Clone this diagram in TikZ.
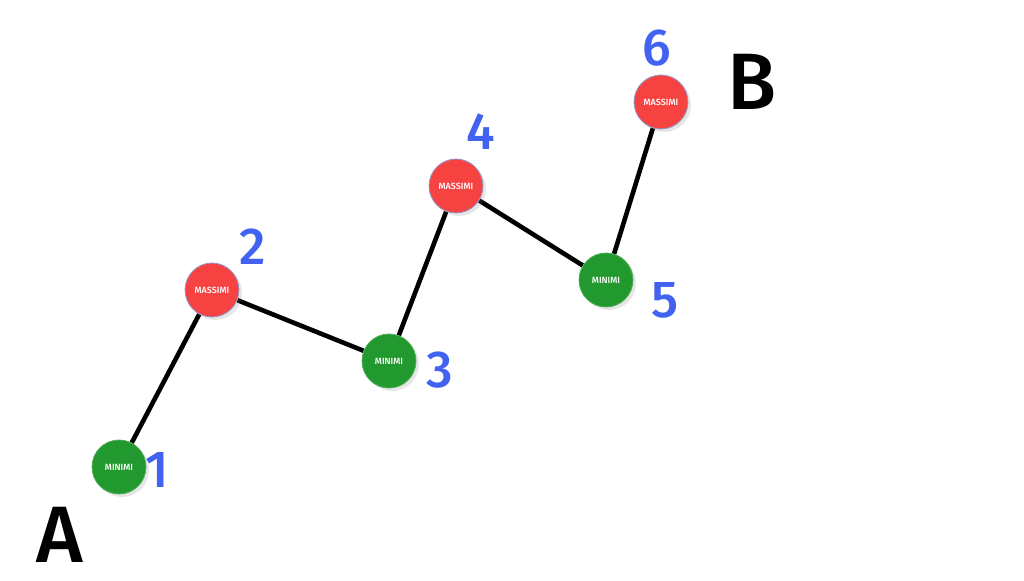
\documentclass[tikz,border=0pt]{standalone}
\usepackage{fontspec}
\setmainfont{Fira Sans}[BoldFont={Fira Sans Medium}]
\usetikzlibrary{shadows, backgrounds}

\definecolor{minigreen}{HTML}{22992E}
\definecolor{maxred}{HTML}{F74242}
\definecolor{numblue}{HTML}{4262F2}

\begin{document}
\begin{tikzpicture}[
    x=0.5pt, y=-0.5pt,
    % Define point styles
    minpt/.style={circle, fill=minigreen, draw=minigreen!80!white, line width=0.4pt, minimum size=27pt, inner sep=0pt, text=white, font=\fontsize{4.5}{5}\selectfont\bfseries, drop shadow={opacity=0.2, shadow xshift=1.5pt, shadow yshift=-1.5pt}},
    maxpt/.style={circle, fill=maxred, draw=numblue!50!gray!70, line width=0.4pt, minimum size=27pt, inner sep=0pt, text=white, font=\fontsize{4.5}{5}\selectfont\bfseries, drop shadow={opacity=0.2, shadow xshift=1.5pt, shadow yshift=-1.5pt}},
    % Define label styles
    num/.style={text=numblue, font=\fontsize{26}{26}\selectfont\bfseries},
    endpt/.style={text=black, font=\fontsize{40}{40}\selectfont\bfseries},
    % Define edge style
    edge/.style={line width=2.3pt, black}
]

    \useasboundingbox (0,0) rectangle (1024,581);

    % Points
    \node[minpt] (p1) at (119,467) {MINIMI};
    \node[maxpt] (p2) at (212,290) {MASSIMI};
    \node[minpt] (p3) at (389,361) {MINIMI};
    \node[maxpt] (p4) at (456,186) {MASSIMI};
    \node[minpt] (p5) at (606,280) {MINIMI};
    \node[maxpt] (p6) at (661,102) {MASSIMI};

    % Numbers
    \node[num] (n1) at (157,470) {1};
    \node[num] (n2) at (253,247) {2};
    \node[num] (n3) at (440,370) {3};
    \node[num] (n4) at (481,132) {4};
    \node[num] (n5) at (665,300) {5};
    \node[num] (n6) at (657,48) {6};

    % End points
    \node[endpt] (a) at (60,535) {A};
    \node[endpt] (b) at (752,82) {B};

    % Edges
    \begin{pgfonlayer}{background}
    \draw[edge] (p1) -- (p2);
    \draw[edge] (p2) -- (p3);
    \draw[edge] (p3) -- (p4);
    \draw[edge] (p4) -- (p5);
    \draw[edge] (p5) -- (p6);
    \end{pgfonlayer}

\end{tikzpicture}
\end{document}
